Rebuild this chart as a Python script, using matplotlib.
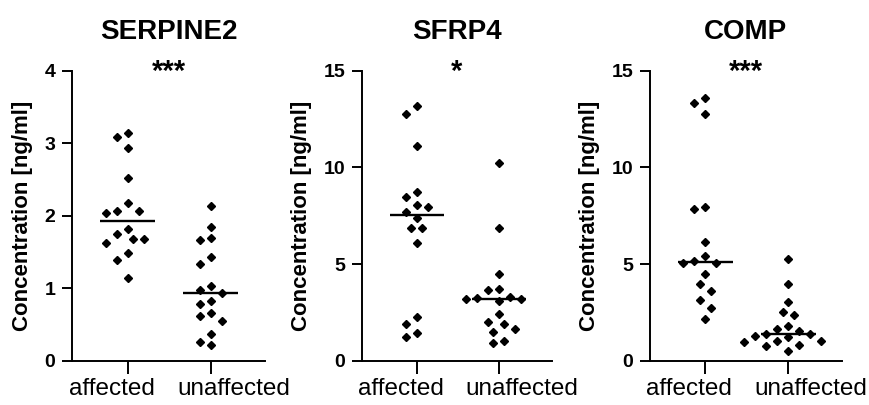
import numpy as np
import matplotlib
matplotlib.use("agg")
import matplotlib.pyplot as plt
from matplotlib.transforms import ScaledTranslation

plt.rcParams["font.family"] = ["Liberation Sans", "DejaVu Sans"]

GROUPS = ["affected", "unaffected"]
PANELS = ["SERPINE2", "SFRP4", "COMP"]
STARS = ["***", "*", "***"]
YMAX = [4, 15, 15]
YTICKS = [[0, 1, 2, 3, 4], [0, 5, 10, 15], [0, 5, 10, 15]]

serpine2_affected = [3.14, 3.08, 2.94, 2.52, 2.17, 2.06, 2.06, 2.04, 1.82, 1.75,
                     1.68, 1.68, 1.63, 1.49, 1.39, 1.14]
serpine2_unaffected = [2.14, 1.85, 1.69, 1.67, 1.43, 1.34, 1.03, 0.98, 0.93, 0.82,
                       0.78, 0.66, 0.62, 0.55, 0.37, 0.26, 0.21]

sfrp4_affected = [13.19, 12.74, 11.10, 8.74, 8.48, 8.04, 7.93, 7.71, 7.36, 6.85,
                  6.85, 6.07, 2.28, 1.90, 1.42, 1.21]
sfrp4_unaffected = [10.21, 6.85, 4.49, 3.69, 3.66, 3.31, 3.23, 3.18, 3.18, 3.10,
                    2.42, 2.02, 1.90, 1.62, 1.50, 1.03, 0.93]

comp_affected = [13.61, 13.35, 12.78, 7.95, 7.83, 6.13, 5.41, 5.15, 5.05, 5.05,
                 4.50, 3.99, 3.63, 3.16, 2.70, 2.18]
comp_unaffected = [5.24, 3.99, 3.02, 2.50, 2.38, 1.78, 1.64, 1.52, 1.38, 1.36,
                   1.26, 1.21, 1.04, 1.00, 0.96, 0.79, 0.74, 0.48]

DATA = [
    [serpine2_affected, serpine2_unaffected],
    [sfrp4_affected, sfrp4_unaffected],
    [comp_affected, comp_unaffected],
]


def swarm(ax, xc, values, gap_px=11.0):
    # simple beeswarm: put each point as near the centre as it fits
    pts = ax.transData.transform(np.column_stack([np.full(len(values), xc), values]))
    placed = []
    step = gap_px / 2.0
    cands = [0.0]
    for i in range(1, 14):
        cands += [-i * step, i * step]
    for px, py in pts:
        for c in cands:
            if all(np.hypot(px + c - qx, py - qy) >= gap_px for qx, qy in placed):
                break
        placed.append((px + c, py))
    out = ax.transData.inverted().transform(np.array(placed))
    return out[:, 0]


fig = plt.figure(figsize=(8.7, 4.05), dpi=100)
lefts = [0.0828, 0.4161, 0.7471]
widths = [0.2218, 0.2184, 0.2207]
label_shift = [-16, 23]  # px, group labels sit a bit outward in the original

for i, name in enumerate(PANELS):
    ax = fig.add_axes([lefts[i], 0.1094, widths[i], 0.716])
    ax.set_xlim(-0.67, 1.65)
    ax.set_ylim(0, YMAX[i])
    ax.set_yticks(YTICKS[i])
    ax.set_xticks([0, 1])
    ax.set_xticklabels([])
    for g, (grp, dx) in enumerate(zip(GROUPS, label_shift)):
        tr = ax.get_xaxis_transform() + ScaledTranslation(dx / 100, -17.5 / 100, fig.dpi_scale_trans)
        ax.text(g, 0, grp, transform=tr, ha="center", va="top", fontsize=17.5)
    for lab in ax.get_yticklabels():
        lab.set_fontweight("bold")
        lab.set_fontsize(14)
    ax.spines["top"].set_visible(False)
    ax.spines["right"].set_visible(False)
    for s in ["left", "bottom"]:
        ax.spines[s].set_linewidth(1.4)
    ax.tick_params(axis="y", length=7, width=1.4, pad=5)
    ax.tick_params(axis="x", length=9, width=1.4)
    ax.set_ylabel("Concentration [ng/ml]", fontsize=16, fontweight="bold", labelpad=8)

    for g, vals in enumerate(DATA[i]):
        vals = np.array(sorted(vals, reverse=True))
        xs = swarm(ax, g, vals)
        ax.plot(xs, vals, "D", color="black", markersize=3.8, clip_on=False)
        med = np.median(vals)
        ax.hlines(med, g - 0.33, g + 0.33, color="black", lw=1.7)

    ax.text(0.5, 0.995, STARS[i], transform=ax.transAxes, ha="center", va="center",
            fontsize=21, fontweight="bold")
    ax.text(0.5, 1.135, name, transform=ax.transAxes, ha="center", va="center",
            fontsize=20, fontweight="bold")

fig.savefig("out.png", dpi=100)
